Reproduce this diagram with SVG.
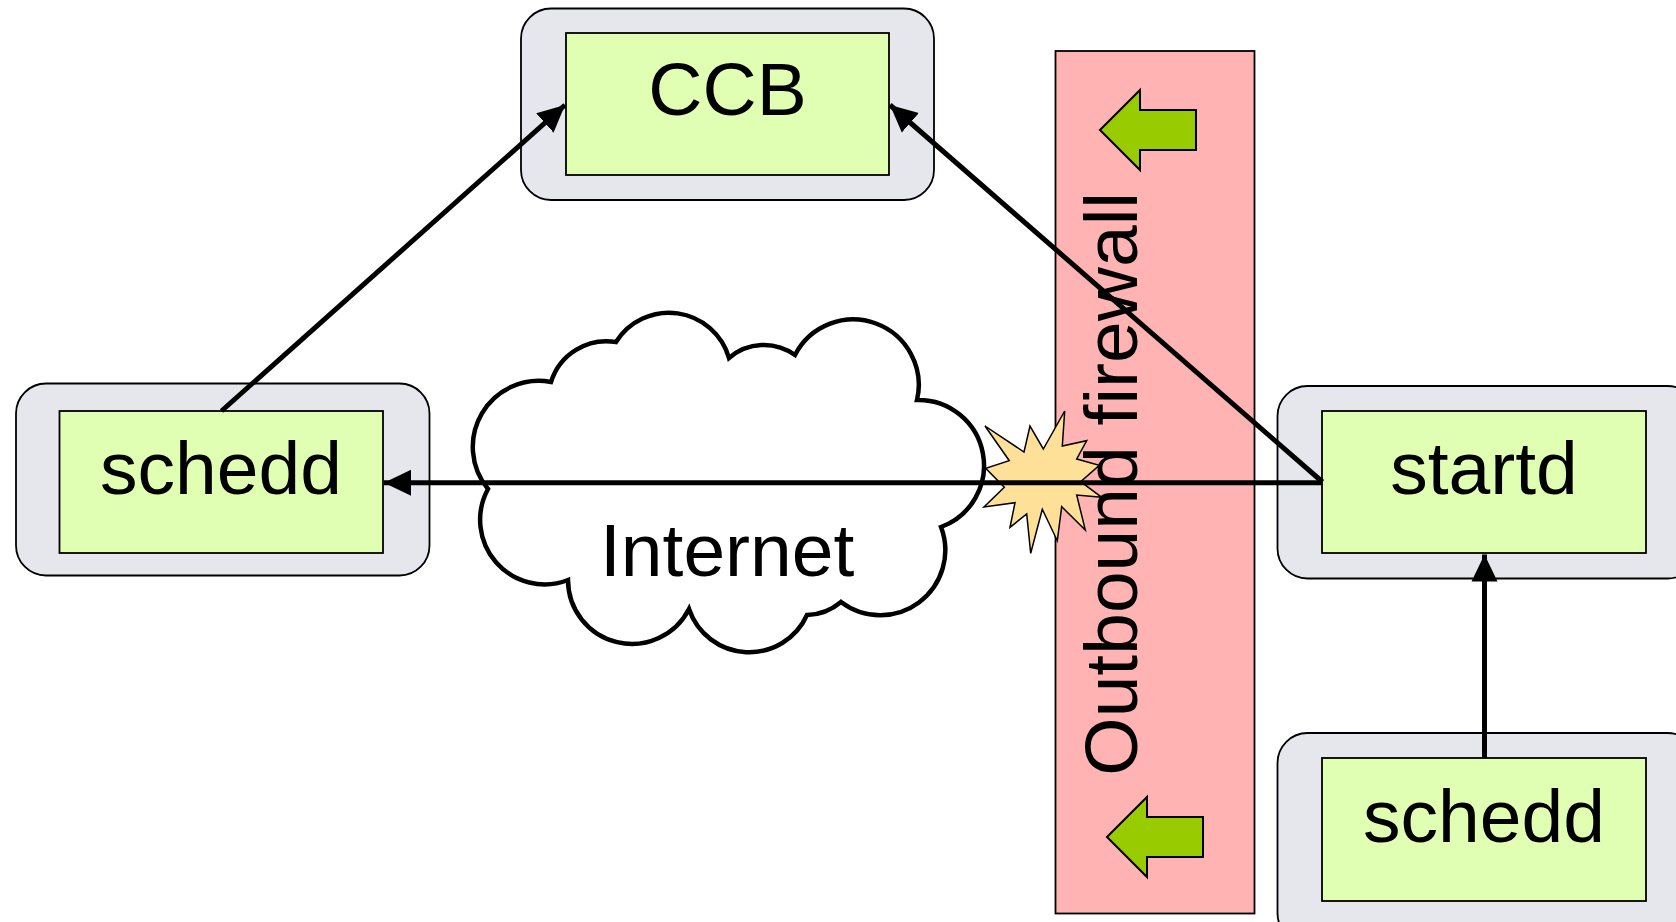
<svg xmlns="http://www.w3.org/2000/svg" width="1676" height="922" viewBox="0 0 1676 922">
<style>
.outer{fill:#e6e7ed;stroke:#000;stroke-width:1.800}
.inner{fill:#e0ffb3;stroke:#000;stroke-width:1.800}
.t{font-family:"Liberation Sans",Arial,sans-serif;font-size:75px;fill:#000}
.c{text-anchor:middle}
.conn{fill:none;stroke:#000;stroke-width:5}
.ga{fill:#99cc00;stroke:#000;stroke-width:2}
</style>
<defs>
<marker id="ah" markerUnits="userSpaceOnUse" markerWidth="28" markerHeight="28" refX="27" refY="13.500" orient="auto"><path d="M0 0.500L27 13.500L0 26.500Z" fill="#000"/></marker>
</defs>
<rect width="1676" height="922" fill="#fff"/>
<g id="firewall">
<rect x="1055.500" y="51" width="199" height="862.500" fill="#ffb3b3" stroke="#000" stroke-width="1.800"/>
<path class="ga" d="M1100 130L1140 90V110H1196V150H1140V170Z"/>
<path class="ga" d="M1107 837L1147 797V817H1203V857H1147V877Z"/>
</g>
<g id="ccb"><rect class="outer" x="521" y="8.500" width="413" height="191.500" rx="30"/><rect class="inner" x="566" y="33" width="323" height="142"/><text class="t c" x="727.500" y="115">CCB</text></g>
<g id="schedd-left"><rect class="outer" x="16" y="383.500" width="413.500" height="192" rx="30"/><rect class="inner" x="59.500" y="411" width="323.500" height="142"/><text class="t c" x="221" y="494">schedd</text></g>
<g id="startd"><rect class="outer" x="1277.500" y="386" width="420" height="192.500" rx="30"/><rect class="inner" x="1322" y="411" width="324" height="142"/><text class="t c" x="1484" y="494">startd</text></g>
<g id="schedd-right"><rect class="outer" x="1277.500" y="733" width="420" height="210" rx="30"/><rect class="inner" x="1322" y="758" width="324" height="143"/><text class="t c" x="1484" y="841.500">schedd</text></g>
<g id="internet">
<path d="M488 489A66 66 0 0 1 551 382A58 58 0 0 1 616 342A62.500 62.500 0 0 1 729 358A53 53 0 0 1 795 355A65.500 65.500 0 0 1 917 400A65.500 65.500 0 0 1 941 527A65 65 0 0 1 841 602A55 55 0 0 1 807 615A63.500 63.500 0 0 1 689 609A64 64 0 0 1 568 580A64.500 64.500 0 0 1 488 489Z" fill="#fff" stroke="#000" stroke-width="4.500"/>
<text class="t" x="600" y="576">Internet</text>
</g>
<g id="burst"><path d="M985 426L1024 452L1030 426L1043.300 449L1064.700 411L1062.300 446L1086.700 440.700L1076.700 459L1099.300 465.300L1080.700 481.700L1101.700 497.300L1076.700 495L1085.300 530L1061.700 506.700L1057.300 540.700L1042.300 509.300L1030.700 553.300L1026.700 514L1010 527.300L1015 502.700L984 507L1004.300 487.300L985.700 468.300L1009.300 460.700Z" fill="#ffe099" stroke="#000" stroke-width="1.500"/></g>
<g id="connectors">
<line class="conn" x1="221.500" y1="411" x2="565" y2="105" marker-end="url(#ah)"/>
<line class="conn" x1="1322.500" y1="482" x2="890" y2="105" marker-end="url(#ah)"/>
<line class="conn" x1="1322.500" y1="482.700" x2="384" y2="482.700" marker-end="url(#ah)"/>
<line class="conn" x1="1484.500" y1="758" x2="1484.500" y2="554.500" marker-end="url(#ah)"/>
</g>
<text id="firewall-label" class="t" x="1137.500" y="775.700" transform="rotate(-90 1137.500 775.700)">Outbound firewall</text>
</svg>
